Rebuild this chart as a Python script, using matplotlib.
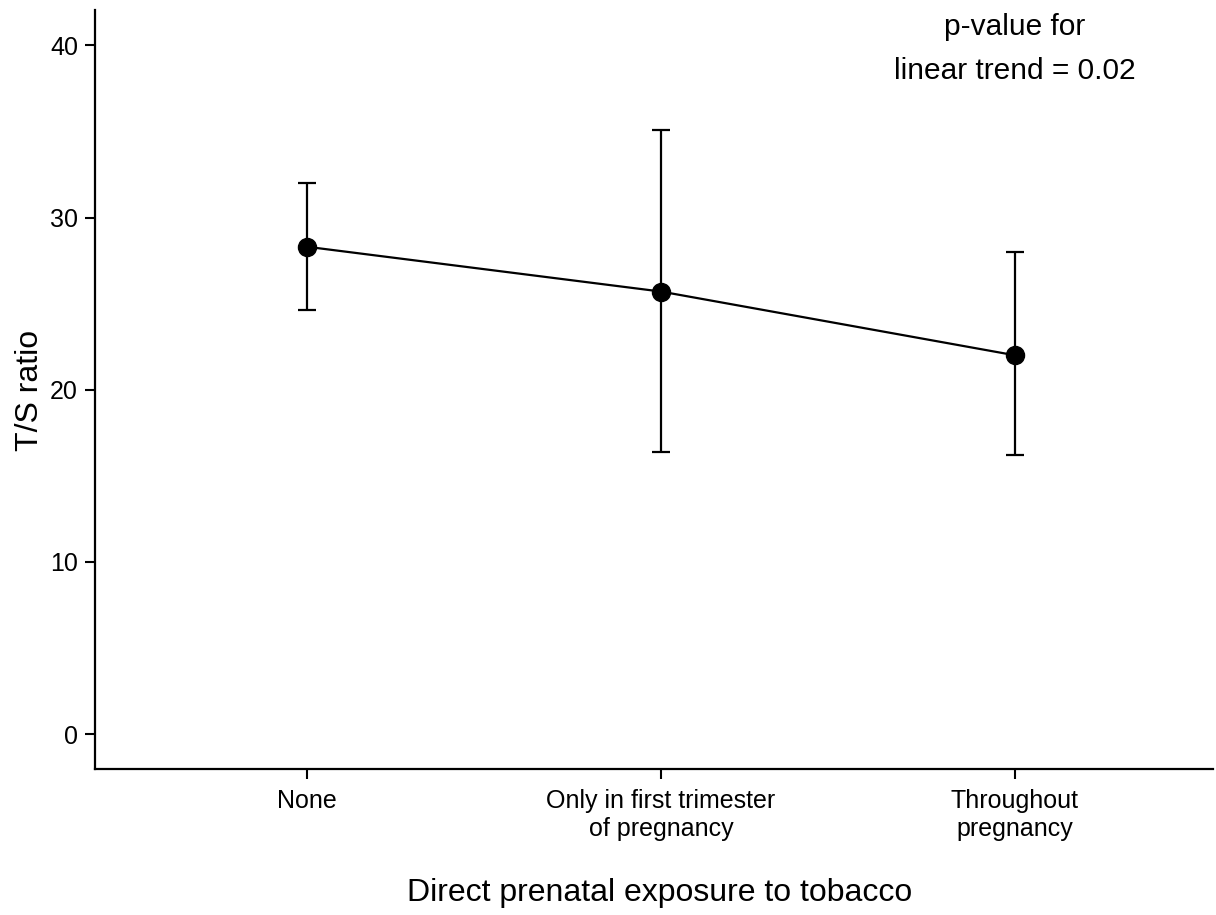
import matplotlib
matplotlib.use('Agg')
import matplotlib.pyplot as plt

plt.rcParams['font.family'] = ['Liberation Sans', 'DejaVu Sans']

# data
categories = ['None', 'Only in first trimester\nof pregnancy', 'Throughout\npregnancy']
ts_mean = [28.3, 25.7, 22.0]
ci_low = [24.6, 16.4, 16.2]
ci_high = [32.0, 35.1, 28.0]
y_ticks = [0, 10, 20, 30, 40]

x = list(range(1, len(categories) + 1))
err_lo = [m - lo for m, lo in zip(ts_mean, ci_low)]
err_hi = [hi - m for m, hi in zip(ts_mean, ci_high)]

fig = plt.figure(figsize=(12.16, 9.15), dpi=100)
ax = fig.add_axes([0.0781, 0.1596, 0.9194, 0.8294])

ax.errorbar(x, ts_mean, yerr=[err_lo, err_hi], color='black', lw=1.6,
            marker='o', markersize=13, capsize=6.5, capthick=1.6, elinewidth=1.6)

ax.set_xlim(0.4, 3.56)
ax.set_ylim(-2.03, 42.05)
ax.set_xticks(x)
ax.set_xticklabels(categories, fontsize=18, linespacing=1.25)
ax.set_yticks(y_ticks)
ax.tick_params(axis='both', labelsize=18, length=7.2, width=1.5, direction='out')
ax.tick_params(axis='x', pad=7)
ax.tick_params(axis='y', pad=5)

for s in ['top', 'right']:
    ax.spines[s].set_visible(False)
for s in ['left', 'bottom']:
    ax.spines[s].set_linewidth(1.6)

ax.set_ylabel('T/S ratio', fontsize=23, va='center')
ax.yaxis.set_label_coords(-0.058, 0.499)
ax.set_xlabel('Direct prenatal exposure to tobacco', fontsize=23, va='center')
ax.xaxis.set_label_coords(0.5054, -0.164)

ax.text(3.0, 39.8, 'p-value for\nlinear trend = 0.02', ha='center', va='center',
        fontsize=21.5, linespacing=1.75)

fig.savefig('out.png', dpi=100)
